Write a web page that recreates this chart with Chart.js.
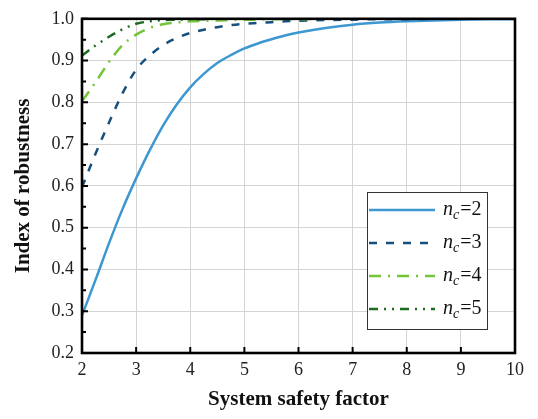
<!DOCTYPE html>
<html lang="en">
<head>
  <meta charset="UTF-8">
  <title>Index of robustness</title>
  <style>
    html, body { margin: 0; padding: 0; background: #fff; }
    .chart-box { width: 538px; height: 419px; position: relative; }
  </style>
</head>
<body>
  <div class="chart-box">
    <canvas id="robustChart"></canvas>
  </div>

  <script src="https://cdn.jsdelivr.net/npm/chart.js"></script>
  <script type="text/javascript">
    // safety factor samples (x) and robustness
    const safetyFactor = [2, 2.25, 2.5, 2.75, 3, 3.25, 3.5, 3.75, 4, 4.25, 4.5, 4.75, 5, 5.25, 5.5, 5.75, 6, 6.5, 7, 7.5, 8, 8.5, 9, 9.5, 10];
    const nc2 = [0.290, 0.375, 0.463, 0.545, 0.618, 0.685, 0.745, 0.795, 0.836, 0.868, 0.894, 0.913, 0.929, 0.941, 0.951, 0.960, 0.967, 0.978, 0.986, 0.991, 0.994, 0.996, 0.998, 0.999, 0.999];
    const nc3 = [0.597, 0.677, 0.752, 0.822, 0.878, 0.912, 0.937, 0.954, 0.966, 0.974, 0.980, 0.985, 0.988, 0.990, 0.992, 0.994, 0.995, 0.997, 0.998, 0.999, 0.999, 1.000, 1.000, 1.000, 1.000];
    const nc4 = [0.803, 0.848, 0.897, 0.937, 0.962, 0.978, 0.987, 0.991, 0.994, 0.995, 0.996, 0.997, 0.998, 0.998, 0.999, 0.999, 0.999, 1.000, 1.000, 1.000, 1.000, 1.000, 1.000, 1.000, 1.000];
    const nc5 = [0.912, 0.936, 0.957, 0.975, 0.988, 0.994, 0.997, 0.998, 0.999, 0.999, 1.000, 1.000, 1.000, 1.000, 1.000, 1.000, 1.000, 1.000, 1.000, 1.000, 1.000, 1.000, 1.000, 1.000, 1.000];

    const ncLabels = ['2', '3', '4', '5'];
    const xTicks = [2, 3, 4, 5, 6, 7, 8, 9, 10];
    const yTicks = [0.2, 0.3, 0.4, 0.5, 0.6, 0.7, 0.8, 0.9, 1.0];

    const serif = '"Liberation Serif", "DejaVu Serif", serif';

    function pts(ys) {
      return ys.map(function (y, i) { return { x: safetyFactor[i], y: y }; });
    }

    const series = [
      { nc: ncLabels[0], data: nc2, color: '#3d97d1', dash: [] },
      { nc: ncLabels[1], data: nc3, color: '#17507d', dash: [8, 9] },
      { nc: ncLabels[2], data: nc4, color: '#74c43a', dash: [12, 7, 2, 7] },
      { nc: ncLabels[3], data: nc5, color: '#1b6b20', dash: [9, 6, 2, 6, 2, 6] }
    ];

    // frame, inward ticks and the legend box
    const decor = {
      id: 'decor',
      afterDatasetsDraw(chart) {
        const ctx = chart.ctx;
        const a = chart.chartArea;
        const xs = chart.scales.x, ys = chart.scales.y;
        ctx.save();
        ctx.strokeStyle = '#000';
        ctx.lineWidth = 2;
        ctx.beginPath();
        xTicks.forEach(function (v) {
          const px = xs.getPixelForValue(v);
          ctx.moveTo(px, a.bottom); ctx.lineTo(px, a.bottom - 6);
        });
        for (let k = 4; k <= 20; k++) {
          const py = ys.getPixelForValue(k / 20);
          const len = k % 2 === 0 ? 6 : 4;
          ctx.moveTo(a.left, py); ctx.lineTo(a.left + len, py);
        }
        ctx.stroke();
        ctx.lineWidth = 2.6;
        ctx.strokeRect(a.left, a.top, a.right - a.left, a.bottom - a.top);

        // legend
        const bx = 367, by = 192, bw = 120, bh = 137;
        ctx.fillStyle = '#fff';
        ctx.fillRect(bx, by, bw, bh);
        ctx.lineWidth = 1;
        ctx.strokeStyle = '#333';
        ctx.strokeRect(bx + 0.5, by + 0.5, bw, bh);
        series.forEach(function (s, i) {
          const ly = 210 + i * 33;
          ctx.strokeStyle = s.color;
          ctx.lineWidth = 2.5;
          ctx.setLineDash(s.dash);
          ctx.beginPath();
          ctx.moveTo(369, ly); ctx.lineTo(435, ly);
          ctx.stroke();
          ctx.setLineDash([]);
          ctx.fillStyle = '#111';
          ctx.textBaseline = 'alphabetic';
          let tx = 443;
          ctx.font = 'italic 20px ' + serif;
          ctx.fillText('n', tx, ly + 5);
          tx += ctx.measureText('n').width;
          ctx.font = 'italic 14px ' + serif;
          ctx.fillText('c', tx, ly + 9);
          tx += ctx.measureText('c').width + 1;
          ctx.font = '20px ' + serif;
          ctx.fillText('=' + s.nc, tx, ly + 5);
        });
        ctx.restore();
      }
    };

    const ctxEl = document.getElementById('robustChart');

    new Chart(ctxEl, {
      type: 'line',
      data: {
        datasets: series.map(function (s, i) {
          return {
            label: 'n_c=' + s.nc,
            data: pts(s.data),
            borderColor: s.color,
            borderWidth: 2.5,
            borderDash: s.dash,
            pointRadius: 0,
            cubicInterpolationMode: 'monotone',
            fill: false,
            order: 4 - i
          };
        })
      },
      options: {
        responsive: true,
        maintainAspectRatio: false,
        animation: false,
        layout: { padding: { top: 7, right: 23, left: 0, bottom: 0 } },
        plugins: { legend: { display: false }, tooltip: { enabled: false } },
        scales: {
          x: {
            type: 'linear',
            min: 2, max: 10,
            afterBuildTicks(scale) { scale.ticks = xTicks.map(function (v) { return { value: v }; }); },
            afterFit(scale) { scale.height = 66; },
            ticks: { color: '#222', padding: 6, font: { family: serif, size: 18 } },
            grid: { color: '#d4d4d4', lineWidth: 1, drawTicks: false },
            border: { display: false },
            title: {
              display: true, text: 'System safety factor', color: '#111',
              font: { family: serif, size: 21, weight: 'bold' },
              padding: { top: 0, bottom: 7 }
            }
          },
          y: {
            min: 0.2, max: 1.0,
            afterBuildTicks(scale) { scale.ticks = yTicks.map(function (v) { return { value: v }; }); },
            afterFit(scale) { scale.width = 82; },
            ticks: {
              color: '#222', padding: 8, font: { family: serif, size: 18 },
              callback: function (v) { return v.toFixed(1); }
            },
            grid: { color: '#d4d4d4', lineWidth: 1, drawTicks: false },
            border: { display: false },
            title: {
              display: true, text: 'Index of robustness', color: '#111',
              font: { family: serif, size: 21, weight: 'bold' },
              padding: { top: 11, bottom: 0 }
            }
          }
        }
      },
      plugins: [decor]
    });
  </script>
</body>
</html>
